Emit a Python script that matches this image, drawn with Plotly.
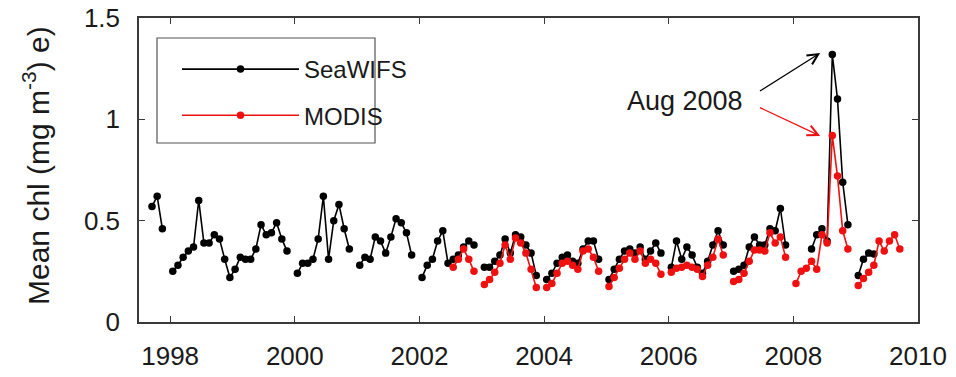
import plotly.graph_objects as go

# Monthly mean chlorophyll (mg m^-3); None marks months with no data.
# SeaWiFS, Sep 1997 onward
sw_1997 = [0.57, 0.62, 0.46]                                   # Sep-Nov
sw_1998 = [0.25, 0.28, 0.32, 0.35, 0.37, 0.60, 0.39, 0.39, 0.43, 0.41, 0.31, 0.22]
sw_1999 = [0.26, 0.32, 0.31, 0.31, 0.36, 0.48, 0.43, 0.44, 0.49, 0.41, 0.35, None]
sw_2000 = [0.24, 0.29, 0.29, 0.31, 0.41, 0.62, 0.31, 0.50, 0.58, 0.46, 0.36, None]
sw_2001 = [0.28, 0.32, 0.31, 0.42, 0.40, 0.34, 0.42, 0.51, 0.49, 0.44, 0.33, None]
sw_2002 = [0.22, 0.28, 0.31, 0.40, 0.45, 0.29, 0.31, 0.33, 0.37, 0.40, 0.38, None]
sw_2003 = [0.27, 0.27, 0.30, 0.33, 0.41, 0.34, 0.43, 0.42, 0.38, 0.34, 0.23, None]
sw_2004 = [0.21, 0.24, 0.29, 0.32, 0.33, 0.30, 0.29, 0.36, 0.40, 0.40, 0.31, None]
sw_2005 = [0.21, 0.26, 0.31, 0.35, 0.36, 0.34, 0.37, 0.31, 0.35, 0.39, 0.34, None]
sw_2006 = [0.27, 0.40, 0.31, 0.37, 0.33, 0.27, 0.24, 0.30, 0.38, 0.45, 0.38, None]
sw_2007 = [0.25, 0.26, 0.28, 0.37, 0.42, 0.38, 0.38, 0.46, 0.45, 0.56, 0.38, None]
sw_2008 = [None, None, None, 0.36, 0.43, 0.46, 0.40, 1.32, 1.10, 0.69, 0.48, None]
sw_2009 = [0.23, 0.31, 0.34, 0.335]                           # Jan-Apr

# MODIS-Aqua, Jul 2002 onward
mo_2002 = [0.27, 0.31, 0.36, 0.31, 0.25, None]                 # Jul-Dec
mo_2003 = [0.185, 0.21, 0.245, 0.29, 0.38, 0.31, 0.415, 0.39, 0.34, 0.26, 0.17, None]
mo_2004 = [0.17, 0.19, 0.24, 0.29, 0.30, 0.28, 0.26, 0.35, 0.36, 0.32, 0.25, None]
mo_2005 = [0.175, 0.22, 0.265, 0.31, 0.34, 0.31, 0.35, 0.29, 0.31, 0.29, 0.235, None]
mo_2006 = [0.245, 0.265, 0.27, 0.28, 0.27, 0.26, 0.225, 0.28, 0.32, 0.41, 0.33, None]
mo_2007 = [0.20, 0.21, 0.24, 0.30, 0.355, 0.355, 0.35, 0.44, 0.39, 0.42, 0.32, None]
mo_2008 = [0.19, 0.25, 0.265, 0.30, 0.26, 0.43, 0.39, 0.92, 0.72, 0.45, 0.36, None]
mo_2009 = [0.18, 0.215, 0.245, 0.28, 0.40, 0.35, 0.40, 0.43, 0.36]   # Jan-Sep

x_ticks = [1998, 2000, 2002, 2004, 2006, 2008, 2010]
y_ticks = [0, 0.5, 1, 1.5]
y_tick_text = ["0", "0.5", "1", "1.5"]


def monthly(start_year, start_month, blocks):
    """Flatten yearly blocks into (decimal-year, value) pairs at mid-month."""
    xs, ys = [], []
    y, m = start_year, start_month
    for block in blocks:
        for v in block:
            xs.append(y + (m - 0.5) / 12.0)
            ys.append(v)
            m += 1
            if m > 12:
                m = 1
                y += 1
    return xs, ys


sw_x, sw_y = monthly(1997, 9, [sw_1997, [None], sw_1998, sw_1999, sw_2000, sw_2001,
                               sw_2002, sw_2003, sw_2004, sw_2005, sw_2006, sw_2007,
                               sw_2008, sw_2009])
mo_x, mo_y = monthly(2002, 7, [mo_2002, mo_2003, mo_2004, mo_2005, mo_2006, mo_2007,
                               mo_2008, mo_2009])

FONT = "Liberation Sans, Arial, sans-serif"
FRAME = "#3a3a3a"
TEXT = "#1a1a1a"
RED = "#f01010"

W, H = 956, 377
L, R, T, B = 139, 38, 18, 55
PW, PH = W - L - R, H - T - B


def px(xp):
    return (xp - L) / PW


def py(yp):
    return (H - B - yp) / PH


fig = go.Figure()
fig.add_trace(go.Scatter(
    x=sw_x, y=sw_y, name="SeaWIFS", mode="lines+markers",
    line=dict(color="#000000", width=1.6),
    marker=dict(color="#000000", size=7.5),
    legendgroup="a",
))
fig.add_trace(go.Scatter(
    x=mo_x, y=mo_y, name="MODIS", mode="lines+markers",
    line=dict(color=RED, width=1.6),
    marker=dict(color=RED, size=7.5),
    legendgroup="b",
))

# arrows from the label to the August 2008 peaks
fig.add_annotation(x=2008.43, y=1.327, ax=2007.44, ay=1.135, axref="x", ayref="y",
                   xref="x", yref="y", text="", showarrow=True, arrowhead=5,
                   arrowsize=1.6, arrowwidth=1.3, arrowcolor="#000000", standoff=0)
fig.add_annotation(x=2008.43, y=0.918, ax=2007.44, ay=1.061, axref="x", ayref="y",
                   xref="x", yref="y", text="", showarrow=True, arrowhead=5,
                   arrowsize=1.6, arrowwidth=1.3, arrowcolor=RED, standoff=0)
fig.add_annotation(x=2007.22, y=1.09, xref="x", yref="y", text="Aug 2008",
                   showarrow=False, xanchor="right", yanchor="middle",
                   font=dict(family=FONT, size=27, color=TEXT))

# rotated y-axis title followed by the panel letter
fig.add_annotation(x=px(36), y=py(166), xref="paper", yref="paper",
                   xanchor="center", yanchor="middle",
                   text="Mean chl (mg m<sup>-3</sup>) e)", textangle=-90, showarrow=False,
                   font=dict(family=FONT, size=30, color=TEXT))

# legend frame
fig.add_shape(type="rect", xref="paper", yref="paper",
              x0=px(157), x1=px(375), y0=py(143), y1=py(38),
              line=dict(color="#555555", width=1.2), fillcolor="white", layer="below")

fig.update_layout(
    width=W, height=H,
    margin=dict(l=L, r=R, t=T, b=B, pad=0),
    paper_bgcolor="white", plot_bgcolor="white",
    font=dict(family=FONT, size=26, color=TEXT),
    showlegend=True,
    legend=dict(x=px(177), y=py(47), xanchor="left", yanchor="top",
                borderwidth=0, bgcolor="rgba(0,0,0,0)",
                font=dict(family=FONT, size=24, color=TEXT),
                itemwidth=117, tracegroupgap=12),
    xaxis=dict(range=[1997.5, 2010], tickmode="array", tickvals=x_ticks,
               ticks="inside", ticklen=6, tickcolor=FRAME, showgrid=False,
               zeroline=False, showline=True, linecolor=FRAME, linewidth=1.5,
               mirror="ticks", ticklabelstandoff=10, automargin=False,
               tickfont=dict(family=FONT, size=26, color=TEXT)),
    yaxis=dict(range=[0, 1.5], tickmode="array", tickvals=y_ticks, ticktext=y_tick_text,
               ticks="inside", ticklen=6, tickcolor=FRAME, showgrid=False,
               zeroline=False, showline=True, linecolor=FRAME, linewidth=1.5,
               mirror="ticks", ticklabelstandoff=12, automargin=False,
               tickfont=dict(family=FONT, size=26, color=TEXT)),
)

fig.write_html("out.html")
